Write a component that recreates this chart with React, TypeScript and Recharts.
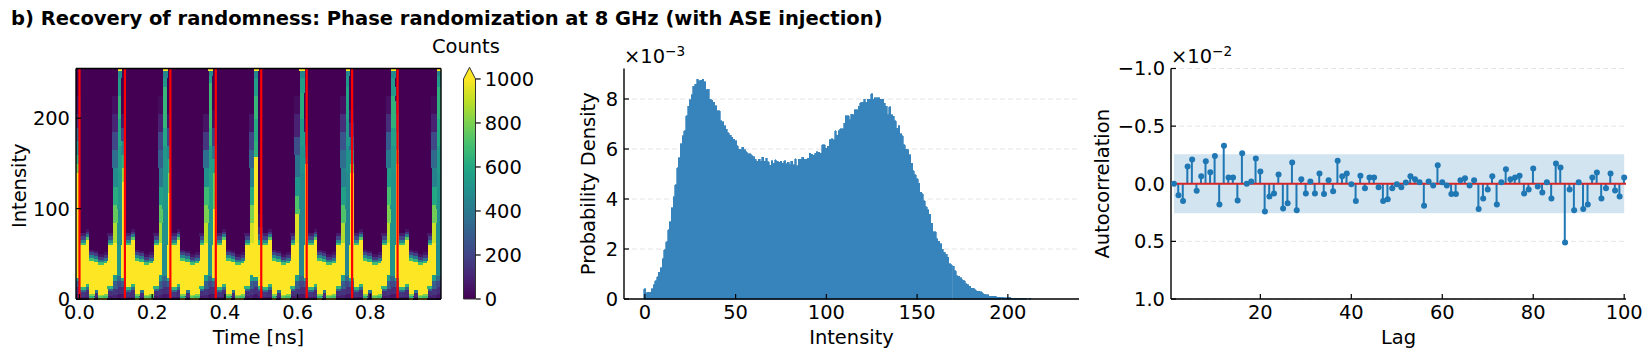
import { Bar, BarChart, Cell, ComposedChart, CartesianGrid, Line, ReferenceArea, ReferenceLine, XAxis, YAxis } from 'recharts';

const WIDTH = 1652;
const HEIGHT = 357;
const FONT = '"DejaVu Sans", sans-serif';
const TICK_FONT = 19.44;
const LABEL_FONT = 19.44;

// heatmap: one column per time bin, each column is a list of [upper intensity, counts]
const TIME_BINS = [
  -0.0033, 0.0093, 0.0218, 0.0344, 0.0469, 0.0595, 0.072, 0.0846, 0.0971, 0.1097,
  0.1222, 0.1348, 0.1473, 0.1599, 0.1724, 0.185, 0.1975, 0.2101, 0.2226, 0.2352,
  0.2477, 0.2603, 0.2728, 0.2854, 0.2979, 0.3105, 0.323, 0.3356, 0.3481, 0.3607,
  0.3732, 0.3858, 0.3983, 0.4109, 0.4234, 0.436, 0.4485, 0.4611, 0.4736, 0.4862,
  0.4987, 0.5113, 0.5238, 0.5364, 0.5489, 0.5615, 0.574, 0.5866, 0.5991, 0.6117,
  0.6242, 0.6368, 0.6493, 0.6619, 0.6744, 0.687, 0.6995, 0.7121, 0.7246, 0.7372,
  0.7497, 0.7623, 0.7748, 0.7874, 0.7999, 0.8125, 0.825, 0.8376, 0.8501, 0.8627,
  0.8752, 0.8878, 0.9003, 0.9129, 0.9254, 0.938, 0.9505, 0.9631, 0.9756, 0.9882,
];

const VALLEY_COLUMNS = [
  [[3, 80], [8, 160], [11, 350], [14, 650], [60, 1000], [63, 700], [66, 450], [70, 200], [74, 80], [255, 0]],
  [[3, 70], [10, 130], [14, 350], [17, 650], [66, 1000], [69, 750], [72, 400], [75, 150], [78, 50], [255, 0]],
  [[2, 1000], [4, 650], [6, 800], [43, 1000], [46, 700], [49, 450], [52, 200], [55, 70], [255, 0]],
  [[3, 70], [7, 130], [10, 400], [42, 1000], [45, 650], [48, 400], [51, 180], [54, 60], [255, 0]],
  [[2, 1000], [4, 750], [5, 850], [38, 1000], [41, 700], [44, 400], [47, 170], [50, 50], [255, 0]],
  [[2, 1000], [4, 700], [6, 800], [40, 1000], [43, 650], [46, 350], [49, 150], [52, 50], [255, 0]],
  [[4, 70], [9, 130], [12, 330], [15, 650], [60, 1000], [63, 700], [66, 450], [70, 200], [74, 70], [255, 0]],
];

const PULSE_HEAD = [
  [[6, 70], [14, 140], [20, 300], [24, 600], [140, 1000], [150, 800], [160, 650], [175, 480], [190, 300], [205, 120], [225, 40], [255, 0]],
  [[6, 70], [14, 140], [20, 300], [24, 600], [130, 1000], [145, 850], [160, 650], [175, 450], [190, 200], [205, 60], [255, 0]],
  [[6, 70], [14, 140], [20, 300], [24, 600], [118, 1000], [140, 820], [155, 650], [170, 450], [190, 200], [205, 50], [255, 0]],
  [[6, 70], [14, 140], [20, 300], [24, 600], [100, 1000], [140, 780], [155, 560], [170, 380], [190, 180], [210, 40], [255, 0]],
  [[4, 70], [9, 130], [12, 330], [15, 650], [60, 1000], [66, 600], [72, 300], [80, 120], [95, 40], [255, 0]],
  [[6, 70], [14, 140], [20, 300], [24, 600], [150, 1000], [158, 450], [170, 250], [185, 120], [200, 40], [255, 0]],
  [[6, 70], [14, 140], [20, 300], [24, 600], [140, 1000], [150, 800], [165, 550], [180, 300], [195, 120], [210, 40], [255, 0]],
  [[6, 70], [14, 140], [20, 300], [24, 600], [150, 1000], [165, 800], [185, 550], [205, 300], [220, 120], [235, 30], [255, 0]],
];

const PULSE_RISE = [
  [[5, 90], [12, 150], [20, 300], [27, 550], [62, 1000], [85, 880], [105, 760], [125, 620], [145, 480], [165, 350], [185, 220], [205, 100], [225, 40], [255, 0]],
  [[5, 90], [12, 150], [20, 300], [27, 550], [62, 1000], [85, 860], [105, 740], [125, 560], [145, 400], [165, 300], [185, 220], [205, 90], [225, 30], [255, 0]],
  [[5, 90], [12, 150], [20, 300], [27, 550], [62, 1000], [85, 900], [105, 800], [125, 680], [145, 500], [165, 360], [185, 160], [205, 50], [255, 0]],
  [[5, 90], [12, 150], [20, 300], [27, 550], [62, 1000], [85, 930], [105, 800], [125, 620], [145, 440], [165, 320], [185, 190], [205, 60], [255, 0]],
  [[5, 90], [12, 150], [20, 300], [27, 550], [62, 1000], [95, 950], [115, 720], [135, 520], [160, 380], [180, 240], [205, 90], [225, 30], [255, 0]],
  [[5, 90], [12, 150], [20, 300], [27, 550], [62, 1000], [85, 880], [105, 720], [125, 560], [145, 440], [165, 360], [185, 260], [205, 130], [225, 40], [255, 0]],
  [[5, 90], [12, 150], [20, 300], [27, 550], [62, 1000], [85, 900], [105, 800], [125, 700], [145, 560], [165, 400], [185, 280], [205, 130], [225, 40], [255, 0]],
  [[5, 90], [12, 150], [20, 300], [27, 550], [62, 1000], [85, 920], [105, 780], [125, 600], [145, 440], [165, 340], [185, 220], [205, 90], [225, 30], [255, 0]],
];

const PULSE_PEAK = [
  [[6, 60], [14, 130], [20, 220], [26, 340], [60, 520], [100, 500], [140, 540], [170, 560], [200, 600], [225, 650], [245, 560], [253, 480], [255, 1000]],
  [[6, 60], [14, 130], [20, 220], [26, 340], [60, 480], [100, 500], [140, 520], [170, 530], [190, 600], [235, 660], [245, 540], [253, 460], [255, 1000]],
  [[6, 60], [14, 130], [20, 220], [26, 340], [60, 520], [100, 540], [140, 580], [170, 560], [190, 640], [240, 680], [247, 560], [253, 470], [255, 1000]],
  [[6, 60], [14, 130], [20, 250], [25, 550], [158, 1000], [175, 640], [200, 610], [225, 660], [245, 560], [253, 470], [255, 1000]],
  [[6, 60], [14, 130], [20, 220], [26, 340], [60, 460], [100, 450], [140, 470], [170, 500], [200, 540], [228, 620], [245, 560], [253, 460], [255, 1000]],
  [[6, 60], [14, 130], [20, 220], [26, 340], [60, 450], [100, 460], [140, 470], [170, 500], [200, 530], [235, 580], [247, 520], [253, 450], [255, 1000]],
  [[6, 60], [14, 130], [20, 220], [26, 340], [60, 500], [100, 500], [140, 510], [170, 520], [190, 560], [225, 640], [245, 540], [253, 470], [255, 1000]],
  [[6, 60], [14, 130], [20, 220], [26, 340], [60, 470], [100, 480], [140, 510], [170, 540], [200, 600], [235, 640], [247, 540], [253, 440], [255, 1000]],
];

const PULSE_STARTS = [0, 0.125, 0.25, 0.375, 0.5, 0.625, 0.75, 0.875];
const HEAT_X_TICKS = [0, 0.2, 0.4, 0.6, 0.8];
const HEAT_Y_TICKS = [0, 100, 200];
const COLORBAR_TICKS = [0, 200, 400, 600, 800, 1000];

// histogram, density per intensity bin from 0 upward (x 10^-3)
const DENSITY = [
  0.41, 0.25, 0.28, 0.28, 0.41, 0.57, 0.73, 0.89, 1.07, 1.25,
  1.61, 1.97, 2.29, 2.77, 3.09, 3.65, 4.09, 4.57, 5.25, 5.65,
  6.21, 6.53, 6.73, 7.33, 7.71, 7.97, 8.17, 8.52, 8.6, 8.8,
  8.73, 8.76, 8.8, 8.7, 8.37, 8.4, 8.0, 7.95, 7.87, 7.73,
  7.53, 7.53, 7.13, 7.09, 6.93, 6.8, 6.66, 6.56, 6.48, 6.4,
  6.33, 6.13, 6.0, 5.97, 6.08, 5.97, 5.9, 5.81, 5.81, 5.73,
  5.7, 5.6, 5.52, 5.6, 5.52, 5.68, 5.52, 5.63, 5.49, 5.36,
  5.53, 5.43, 5.57, 5.52, 5.48, 5.51, 5.43, 5.53, 5.41, 5.47,
  5.37, 5.51, 5.37, 5.61, 5.33, 5.6, 5.6, 5.67, 5.59, 5.6,
  5.63, 5.84, 5.79, 5.75, 5.84, 5.89, 5.87, 5.83, 6.17, 6.17,
  6.03, 6.11, 6.37, 6.41, 6.37, 6.73, 6.55, 6.73, 6.81, 6.81,
  7.04, 7.33, 7.33, 7.17, 7.4, 7.37, 7.57, 7.57, 7.71, 7.85,
  7.88, 8.0, 7.87, 8.0, 8.0, 8.21, 8.0, 8.05, 8.05, 8.05,
  8.0, 8.0, 7.84, 7.71, 7.37, 7.69, 7.37, 7.31, 7.13, 6.84,
  6.93, 6.61, 6.53, 6.17, 6.0, 5.97, 5.77, 5.44, 5.13, 4.97,
  4.81, 4.64, 4.27, 4.21, 3.93, 3.69, 3.57, 3.39, 3.03, 2.69,
  2.69, 2.41, 2.32, 2.21, 2.0, 1.87, 1.8, 1.67, 1.41, 1.37,
  1.31, 1.13, 0.93, 0.91, 0.85, 0.77, 0.73, 0.61, 0.57, 0.51,
  0.44, 0.44, 0.37, 0.31, 0.31, 0.29, 0.25, 0.2, 0.17, 0.17,
  0.12, 0.12, 0.12, 0.11, 0.08, 0.08, 0.08, 0.07, 0.05, 0.05,
  0.05, 0.07, 0.04, 0.04, 0.04, 0.04, 0.04, 0.04, 0.04, 0.04,
  0.04, 0, 0.03,
];
const HIST_X_TICKS = [0, 50, 100, 150, 200];
const HIST_Y_TICKS = [0, 2, 4, 6, 8];

// autocorrelation for lags 1..100 (x 10^-2), y axis is inverted in the plot
const ACF = [
  0, 0.1, 0.15, -0.15, -0.21, 0.06, -0.065, -0.195, -0.1, -0.24,
  0.18, -0.33, -0.055, -0.055, 0.145, -0.265, 0, -0.02, -0.22, -0.107,
  0.24, 0.11, 0.085, -0.08, 0.214, 0.17, -0.185, 0.23, -0.04, 0.085,
  -0.02, 0.085, -0.09, 0.09, -0.03, 0.065, -0.2, -0.065, -0.09, 0.005,
  0.15, -0.07, 0.04, -0.055, -0.055, 0.03, 0.15, 0.135, 0.04, 0.005,
  0.03, -0.01, -0.065, -0.04, -0.012, 0.19, -0.02, 0.015, -0.16, -0.012,
  0.015, 0.09, 0.09, -0.03, -0.047, 0.015, -0.03, 0.22, 0.127, 0.05,
  -0.065, 0.18, -0.012, -0.125, -0.04, -0.055, -0.07, 0.085, 0.05, -0.133,
  0.023, 0.075, -0.012, 0.127, -0.176, -0.142, 0.51, 0.05, 0.23, -0.012,
  0.22, 0.18, -0.055, -0.098, 0.127, 0.04, -0.09, 0.058, 0.11, -0.055,
];
const ACF_BAND = 0.257;
const ACF_X_TICKS = [20, 40, 60, 80, 100];
const ACF_Y_TICKS = [-1, -0.5, 0, 0.5, 1];

const VIRIDIS = ['#440154', '#482475', '#414487', '#355f8d', '#2a788e', '#21918c', '#22a884', '#44bf70', '#7ad151', '#bddf26', '#fde725'];

function hexToRgb(hex: string) {
  return [1, 3, 5].map((i) => parseInt(hex.slice(i, i + 2), 16));
}

function countColor(count: number): string {
  const pos = (Math.min(count, 1000) / 1000) * (VIRIDIS.length - 1);
  const low = Math.floor(pos);
  const high = Math.min(low + 1, VIRIDIS.length - 1);
  const a = hexToRgb(VIRIDIS[low]);
  const b = hexToRgb(VIRIDIS[high]);
  const mix = a.map((v, i) => Math.round(v + (b[i] - v) * (pos - low)));
  return `rgb(${mix.join(',')})`;
}

function fmtSigned(v: number): string {
  return (v < 0 ? '\u2212' : '') + Math.abs(v).toFixed(1);
}

const columns = PULSE_STARTS.flatMap((_, p) => [PULSE_HEAD[p], ...VALLEY_COLUMNS, PULSE_RISE[p], PULSE_PEAK[p]]);
const segmentCount = Math.max(...columns.map((c) => c.length));
const segmentKeys = Array.from({ length: segmentCount }, (_, i) => `seg${i}`);

const heatRows = columns.map((col, i) => {
  const row: Record<string, number> = { time: TIME_BINS[i] };
  col.forEach(([top], s) => {
    row[`seg${s}`] = top - (s > 0 ? col[s - 1][0] : 0);
  });
  return row;
});

const histRows = DENSITY.map((density, intensity) => ({ intensity, density }));
const acfRows = ACF.map((acf, i) => ({ lag: i + 1, acf }));
const colorbarRows = [{ name: 'Counts', range: 1000, extend: 53 }];

const tickStyle = { fontSize: TICK_FONT, fill: '#000', fontFamily: FONT };
const labelStyle = { fontSize: LABEL_FONT, fill: '#000', fontFamily: FONT };
const axisLine = { stroke: '#000', strokeWidth: 1.4 };
const tickLine = { stroke: '#000', strokeWidth: 1.2 };
const gridStroke = '#e4e4e4';

function ExtendArrow(props: any) {
  const { x, y, width, height } = props;
  const perCount = height / 53;
  const bottom = y + height + 1000 * perCount;
  return (
    <g>
      <path d={`M${x},${y + height} L${x + width / 2},${y} L${x + width},${y + height} Z`} fill="#fde725" />
      <path
        d={`M${x},${bottom} L${x},${y + height} L${x + width / 2},${y} L${x + width},${y + height} L${x + width},${bottom} Z`}
        fill="none"
        stroke="#333"
        strokeWidth={1}
      />
    </g>
  );
}

function HeatmapPanel() {
  return (
    <BarChart
      width={WIDTH}
      height={HEIGHT}
      data={heatRows}
      barCategoryGap={0}
      barGap={0}
      margin={{ top: 67.5, right: WIDTH - 442, bottom: HEIGHT - 300, left: 75 }}
      style={{ position: 'absolute', left: 0, top: 0 }}
    >
      <XAxis
        dataKey="time"
        type="number"
        domain={[-0.0096, 0.9945]}
        ticks={HEAT_X_TICKS}
        tickFormatter={(v: number) => v.toFixed(1)}
        height={1}
        interval={0}
        tick={tickStyle}
        tickSize={-5}
        tickMargin={11}
        axisLine={axisLine}
        tickLine={tickLine}
        label={{ value: 'Time [ns]', position: 'center', dy: 38, style: labelStyle }}
      />
      <XAxis xAxisId="frame" orientation="top" type="number" domain={[0, 1]} height={1} tick={false} tickLine={false} axisLine={axisLine} />
      <YAxis
        domain={[0, 255]}
        ticks={HEAT_Y_TICKS}
        width={1}
        interval={0}
        tick={tickStyle}
        tickSize={-5}
        tickMargin={11}
        axisLine={axisLine}
        tickLine={tickLine}
        label={{ value: 'Intensity', angle: -90, position: 'center', dx: -56, dy: 2, style: labelStyle }}
      />
      <YAxis yAxisId="frame" orientation="right" domain={[0, 1]} width={1} tick={false} tickLine={false} axisLine={axisLine} />
      {segmentKeys.map((key, s) => (
        <Bar key={key} dataKey={key} stackId="heat" barSize={4.5} shapeRendering="crispEdges" isAnimationActive={false}>
          {columns.map((col, i) => {
            const color = col[s] ? countColor(col[s][1]) : 'none';
            return <Cell key={i} fill={color} stroke={color} strokeWidth={1} />;
          })}
        </Bar>
      ))}
      {PULSE_STARTS.map((t) => (
        <ReferenceLine key={t} x={t} stroke="#ff0000" strokeWidth={2.2} />
      ))}
    </BarChart>
  );
}

function ColorbarPanel() {
  return (
    <BarChart
      width={WIDTH}
      height={HEIGHT}
      data={colorbarRows}
      barCategoryGap={0}
      margin={{ top: 67.3, right: WIDTH - 476.7, bottom: HEIGHT - 299, left: 463.5 }}
      style={{ position: 'absolute', left: 0, top: 0 }}
    >
      <defs>
        <linearGradient id="viridis" x1="0" y1="1" x2="0" y2="0">
          {VIRIDIS.map((c, i) => (
            <stop key={c} offset={`${i * 10}%`} stopColor={c} />
          ))}
        </linearGradient>
      </defs>
      <XAxis dataKey="name" hide height={0} />
      <YAxis
        orientation="right"
        domain={[0, 1053]}
        ticks={COLORBAR_TICKS}
        width={1}
        interval={0}
        tick={tickStyle}
        tickSize={5}
        tickMargin={4}
        axisLine={false}
        tickLine={tickLine}
      />
      <Bar dataKey="range" stackId="bar" fill="url(#viridis)" isAnimationActive={false} />
      <Bar dataKey="extend" stackId="bar" shape={<ExtendArrow />} isAnimationActive={false} />
    </BarChart>
  );
}

function HistogramPanel() {
  return (
    <BarChart
      width={WIDTH}
      height={HEIGHT}
      data={histRows}
      barCategoryGap={0}
      barGap={0}
      margin={{ top: 68.5, right: WIDTH - 1079, bottom: HEIGHT - 300, left: 623 }}
      style={{ position: 'absolute', left: 0, top: 0 }}
    >
      <CartesianGrid vertical={false} stroke={gridStroke} strokeDasharray="5 3" horizontalValues={[2, 4, 6, 8]} />
      <XAxis
        dataKey="intensity"
        type="number"
        domain={[-11.5, 239.2]}
        ticks={HIST_X_TICKS}
        height={1}
        interval={0}
        tick={tickStyle}
        tickSize={-5}
        tickMargin={11}
        axisLine={axisLine}
        tickLine={tickLine}
        label={{ value: 'Intensity', position: 'center', dy: 38, style: labelStyle }}
      />
      <YAxis
        domain={[0, 9.22]}
        ticks={HIST_Y_TICKS}
        width={1}
        interval={0}
        tick={tickStyle}
        tickSize={-5}
        tickMargin={11}
        axisLine={axisLine}
        tickLine={tickLine}
        label={{ value: 'Probability Density', angle: -90, position: 'center', dx: -35, style: labelStyle }}
      />
      <Bar dataKey="density" fill="#3784bd" stroke="#3784bd" strokeWidth={0.7} barSize={1.8} shapeRendering="crispEdges" isAnimationActive={false} />
    </BarChart>
  );
}

function AutocorrelationPanel() {
  return (
    <ComposedChart
      width={WIDTH}
      height={HEIGHT}
      data={acfRows}
      barGap={0}
      margin={{ top: 68.5, right: WIDTH - 1626, bottom: HEIGHT - 300, left: 1170 }}
      style={{ position: 'absolute', left: 0, top: 0 }}
    >
      <CartesianGrid vertical={false} stroke={gridStroke} strokeDasharray="5 3" />
      <XAxis
        dataKey="lag"
        type="number"
        domain={[0.35, 100.4]}
        ticks={ACF_X_TICKS}
        height={1}
        interval={0}
        tick={tickStyle}
        tickSize={-5}
        tickMargin={11}
        axisLine={axisLine}
        tickLine={tickLine}
        label={{ value: 'Lag', position: 'center', dy: 38, style: labelStyle }}
      />
      <YAxis
        reversed
        domain={[-1, 1]}
        ticks={ACF_Y_TICKS}
        tickFormatter={fmtSigned}
        width={1}
        interval={0}
        tick={tickStyle}
        tickSize={-5}
        tickMargin={11}
        axisLine={axisLine}
        tickLine={tickLine}
        label={{ value: 'Autocorrelation', angle: -90, position: 'center', dx: -68, style: labelStyle }}
      />
      <ReferenceArea x1={1} x2={100} y1={-ACF_BAND} y2={ACF_BAND} fill="#1f77b4" fillOpacity={0.2} stroke="none" />
      <Bar dataKey="acf" fill="#1f77b4" barSize={2} isAnimationActive={false} />
      <Line dataKey="acf" stroke="none" dot={{ r: 3, fill: '#1f77b4', stroke: 'none' }} activeDot={false} isAnimationActive={false} />
      <ReferenceLine y={0} stroke="#d62728" strokeWidth={2} />
    </ComposedChart>
  );
}

function TextAt({ x, y, size, bold, children }: any) {
  return (
    <div style={{ position: 'absolute', left: x, top: y, fontSize: size, fontWeight: bold ? 700 : 400, lineHeight: 1, whiteSpace: 'nowrap', color: '#000' }}>
      {children}
    </div>
  );
}

function Multiplier({ x, y, exponent }: { x: number; y: number; exponent: string }) {
  return (
    <TextAt x={x} y={y} size={TICK_FONT}>
      {'\u00d710'}
      <sup style={{ fontSize: 13.6, lineHeight: 0 }}>{exponent}</sup>
    </TextAt>
  );
}

export default function App() {
  return (
    <div style={{ position: 'absolute', left: 0, top: 0, width: WIDTH, height: HEIGHT, background: '#fff', fontFamily: FONT, overflow: 'hidden' }}>
      <HeatmapPanel />
      <ColorbarPanel />
      <HistogramPanel />
      <AutocorrelationPanel />
      <TextAt x={11} y={9} size={19.5} bold>
        b) Recovery of randomness: Phase randomization at 8 GHz (with ASE injection)
      </TextAt>
      <TextAt x={432} y={37} size={LABEL_FONT}>
        Counts
      </TextAt>
      <Multiplier x={624} y={47} exponent={'\u22123'} />
      <Multiplier x={1171} y={47} exponent={'\u22122'} />
    </div>
  );
}
